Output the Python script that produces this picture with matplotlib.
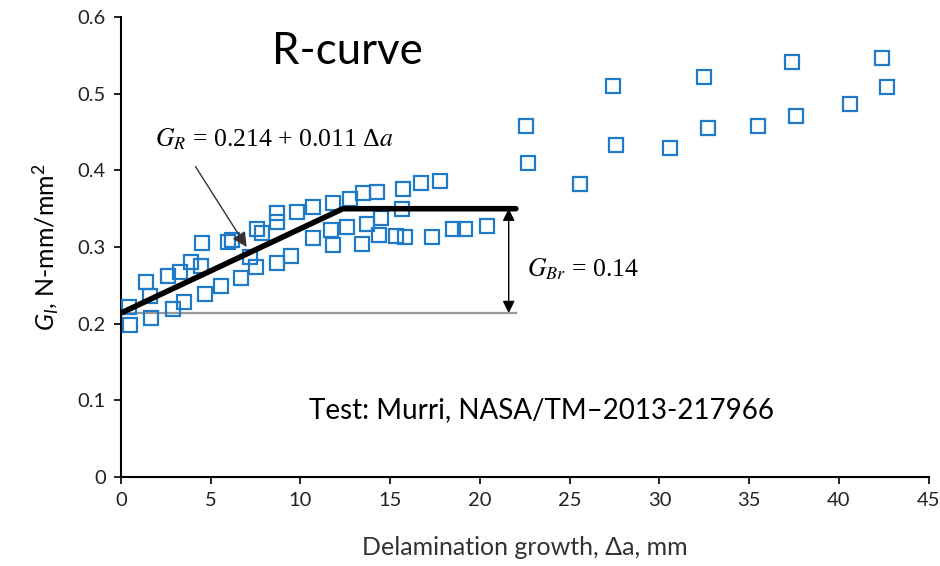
import matplotlib
matplotlib.use('agg')
import matplotlib.pyplot as plt
import numpy as np

plt.rcParams['font.family'] = ['Lato', 'DejaVu Sans']
plt.rcParams['mathtext.fontset'] = 'custom'
plt.rcParams['mathtext.rm'] = 'Lato'
plt.rcParams['mathtext.it'] = 'Lato:italic'

# delamination growth (mm) and fracture toughness G_I (N-mm/mm^2)
da = [0.5, 0.45, 1.4, 1.6, 1.7, 2.6, 2.9, 3.3, 3.5, 3.9, 4.45, 4.5, 4.7,
      5.6, 5.95, 6.2, 6.7, 7.2, 7.5, 7.6, 7.85, 8.7, 8.7, 8.7, 9.45, 9.8,
      10.7, 10.7, 11.7, 11.8, 11.8, 12.75, 12.6, 13.5, 13.4, 13.7, 14.25,
      14.5, 14.4, 15.7, 15.65, 15.3, 15.85, 16.7, 17.3, 17.8, 18.5, 19.15,
      20.4, 22.55, 22.65, 25.6, 27.4, 27.6, 30.6, 32.5, 32.7, 35.5, 37.4,
      37.6, 40.6, 42.4, 42.65]
g_i = [0.198, 0.222, 0.254, 0.236, 0.207, 0.262, 0.219, 0.267, 0.228, 0.280,
       0.275, 0.305, 0.239, 0.249, 0.306, 0.309, 0.260, 0.287, 0.274, 0.323,
       0.318, 0.279, 0.344, 0.333, 0.288, 0.346, 0.312, 0.352, 0.322, 0.357,
       0.303, 0.363, 0.326, 0.370, 0.304, 0.330, 0.372, 0.338, 0.316, 0.376,
       0.350, 0.314, 0.313, 0.383, 0.313, 0.386, 0.323, 0.323, 0.327, 0.458,
       0.409, 0.382, 0.510, 0.433, 0.429, 0.522, 0.455, 0.458, 0.541, 0.471,
       0.487, 0.546, 0.509]

# bilinear R-curve fit: G_R = 0.214 + 0.011*da, capped at plateau
g0 = 0.214
slope = 0.011
g_plateau = 0.35
da_end = 22.0
da_knee = (g_plateau - g0) / slope
fit_x = [0.0, da_knee, da_end]
fit_y = [g0, g_plateau, g_plateau]

fig, ax = plt.subplots(figsize=(9.4, 5.66), dpi=100)
fig.subplots_adjust(left=0.1287, right=0.988, bottom=0.157, top=0.97)

ax.plot(da, g_i, linestyle='none', marker='s', markersize=9.5,
        markerfacecolor='none', markeredgecolor='#1f7bc8', markeredgewidth=1.6,
        zorder=3)

ax.plot([0, da_end], [g0, g0], color='#999999', lw=1.6, zorder=2)
ax.plot(fit_x, fit_y, color='black', lw=4, solid_capstyle='round', zorder=4)

# bridging increment
ax.annotate('', xy=(21.6, g0), xytext=(21.6, g_plateau),
            arrowprops=dict(arrowstyle='<|-|>', color='black', lw=1.0,
                            mutation_scale=18, shrinkA=0, shrinkB=0))
ax.text(22.6, 0.271, r'$G_{Br}$ = 0.14', fontsize=18.5, family='Liberation Serif',
        math_fontfamily='stix', va='center', ha='left')

ax.annotate('', xy=(7.0, 0.30), xytext=(4.15, 0.405),
            arrowprops=dict(arrowstyle='-|>', color='#333333', lw=1.0,
                            mutation_scale=22, shrinkA=0, shrinkB=0))
ax.text(1.9, 0.441, r'$G_R$ = 0.214 + 0.011 Δ$a$', fontsize=18.5,
        family='Liberation Serif', math_fontfamily='stix', va='center', ha='left')

ax.text(8.4, 0.555, 'R-curve', fontsize=31.5, va='center', ha='left')
ax.text(10.5, 0.087, 'Test: Murri, NASA/TM–2013-217966', fontsize=20,
        va='center', ha='left')

ax.set_xlim(0, 45)
ax.set_ylim(0, 0.6)
ax.set_xticks(np.arange(0, 46, 5))
ax.set_yticks(np.arange(0, 0.61, 0.1))
ax.set_yticklabels(['0', '0.1', '0.2', '0.3', '0.4', '0.5', '0.6'])
ax.tick_params(labelsize=14.5, direction='out', length=5, width=1.2, pad=6,
               labelcolor='#222222')

for side in ['top', 'right']:
    ax.spines[side].set_visible(False)
for side in ['left', 'bottom']:
    ax.spines[side].set_linewidth(1.5)

ax.set_xlabel('Delamination growth, Δa, mm', fontsize=18, labelpad=19,
              color='#333333')
ax.set_ylabel(r'$G_I$, N-mm/mm$^2$', fontsize=18, labelpad=12)

fig.savefig('out.png')
